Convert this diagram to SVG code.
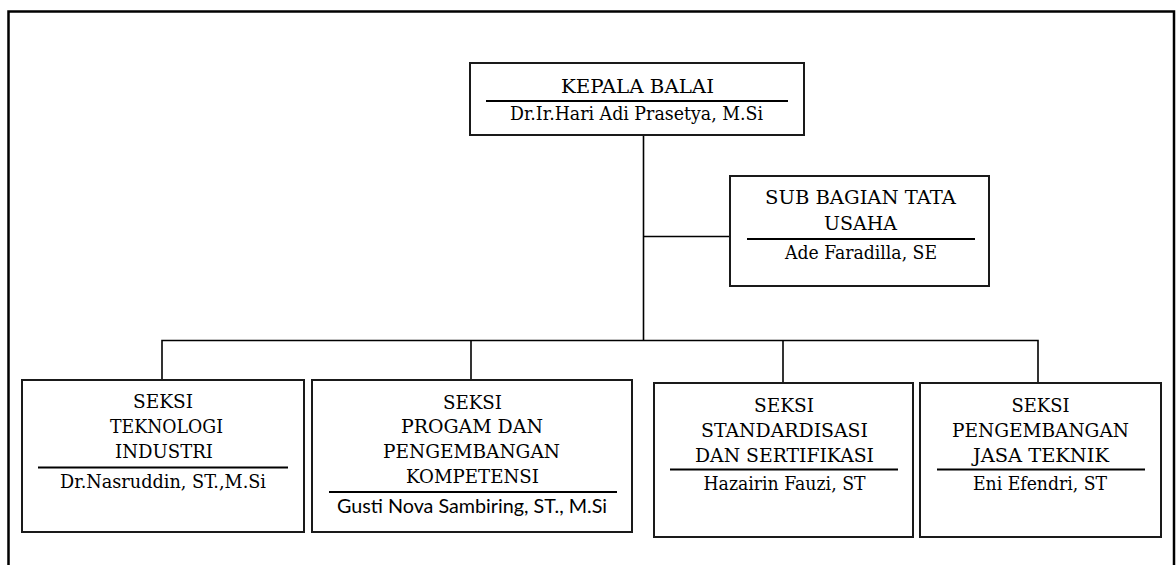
<svg xmlns="http://www.w3.org/2000/svg" width="1176" height="565" viewBox="0 0 1176 565">
  <style>
    .frame { fill: none; stroke: #000; stroke-width: 2.5; }
    .box { fill: #fff; stroke: #1a1a1a; stroke-width: 2; }
    .rule { stroke: #000; stroke-width: 2; }
    .link { fill: none; stroke: #000; stroke-width: 1.6; }
    text { fill: #000; text-anchor: middle; }
    .t { font-family: 'DejaVu Serif', serif; font-size: 19px; }
    .s { font-family: Lato, 'Open Sans', sans-serif; font-size: 19px; }
  </style>
  <rect width="1176" height="565" fill="#fff"/>
  <!-- page frame, open at the bottom -->
  <path class="frame" d="M8.5,570 V11.5 H1174 V570"/>

  <g id="connectors">
    <path class="link" d="M643.5,135 V341"/>
    <path class="link" d="M643.5,236.5 H730"/>
    <path class="link" d="M162,380 V340.5 H1038 V383"/>
    <path class="link" d="M471,340.5 V380"/>
    <path class="link" d="M783,340.5 V383"/>
  </g>

  <g id="kepala-balai">
    <rect class="box" x="470" y="63" width="334" height="72"/>
    <text class="t" x="637.5" y="93" textLength="153" lengthAdjust="spacingAndGlyphs">KEPALA BALAI</text>
    <line class="rule" x1="486" y1="101" x2="788" y2="101"/>
    <text class="t" x="636.5" y="120" textLength="253" lengthAdjust="spacingAndGlyphs">Dr.Ir.Hari Adi Prasetya, M.Si</text>
  </g>

  <g id="sub-bagian-tata-usaha">
    <rect class="box" x="730" y="176" width="259" height="110"/>
    <text class="t" x="860.5" y="204" textLength="191" lengthAdjust="spacingAndGlyphs">SUB BAGIAN TATA</text>
    <text class="t" x="860.5" y="230" textLength="73" lengthAdjust="spacingAndGlyphs">USAHA</text>
    <line class="rule" x1="747" y1="239" x2="975" y2="239"/>
    <text class="t" x="861" y="259" textLength="152" lengthAdjust="spacingAndGlyphs">Ade Faradilla, SE</text>
  </g>

  <g id="seksi-teknologi-industri">
    <rect class="box" x="22" y="380" width="282" height="152"/>
    <text class="t" x="163" y="408" textLength="60" lengthAdjust="spacingAndGlyphs">SEKSI</text>
    <text class="t" x="166.5" y="433" textLength="113" lengthAdjust="spacingAndGlyphs">TEKNOLOGI</text>
    <text class="t" x="164" y="458" textLength="98" lengthAdjust="spacingAndGlyphs">INDUSTRI</text>
    <line class="rule" x1="38" y1="467.5" x2="288" y2="467.5"/>
    <text class="t" x="163" y="488" textLength="206" lengthAdjust="spacingAndGlyphs">Dr.Nasruddin, ST.,M.Si</text>
  </g>

  <g id="seksi-progam-pengembangan-kompetensi">
    <rect class="box" x="312" y="380" width="320" height="152"/>
    <text class="t" x="472.5" y="409" textLength="59" lengthAdjust="spacingAndGlyphs">SEKSI</text>
    <text class="t" x="472" y="433" textLength="142" lengthAdjust="spacingAndGlyphs">PROGAM DAN</text>
    <text class="t" x="471.5" y="458" textLength="177" lengthAdjust="spacingAndGlyphs">PENGEMBANGAN</text>
    <text class="t" x="472.5" y="483" textLength="133" lengthAdjust="spacingAndGlyphs">KOMPETENSI</text>
    <line class="rule" x1="329" y1="492" x2="617" y2="492"/>
    <text class="s" x="472" y="513" textLength="270" lengthAdjust="spacingAndGlyphs">Gusti Nova Sambiring, ST., M.Si</text>
  </g>

  <g id="seksi-standardisasi-sertifikasi">
    <rect class="box" x="654" y="383" width="259" height="154"/>
    <text class="t" x="784" y="412" textLength="60" lengthAdjust="spacingAndGlyphs">SEKSI</text>
    <text class="t" x="784.5" y="437" textLength="167" lengthAdjust="spacingAndGlyphs">STANDARDISASI</text>
    <text class="t" x="784.5" y="462" textLength="179" lengthAdjust="spacingAndGlyphs">DAN SERTIFIKASI</text>
    <line class="rule" x1="670" y1="469.5" x2="898" y2="469.5"/>
    <text class="t" x="784.5" y="490" textLength="162" lengthAdjust="spacingAndGlyphs">Hazairin Fauzi, ST</text>
  </g>

  <g id="seksi-pengembangan-jasa-teknik">
    <rect class="box" x="920" y="383" width="241" height="154"/>
    <text class="t" x="1040.5" y="412" textLength="58" lengthAdjust="spacingAndGlyphs">SEKSI</text>
    <text class="t" x="1040.5" y="437" textLength="177" lengthAdjust="spacingAndGlyphs">PENGEMBANGAN</text>
    <text class="t" x="1041" y="462" textLength="136" lengthAdjust="spacingAndGlyphs">JASA TEKNIK</text>
    <line class="rule" x1="937" y1="469.5" x2="1145" y2="469.5"/>
    <text class="t" x="1040" y="490" textLength="134" lengthAdjust="spacingAndGlyphs">Eni Efendri, ST</text>
  </g>
</svg>
